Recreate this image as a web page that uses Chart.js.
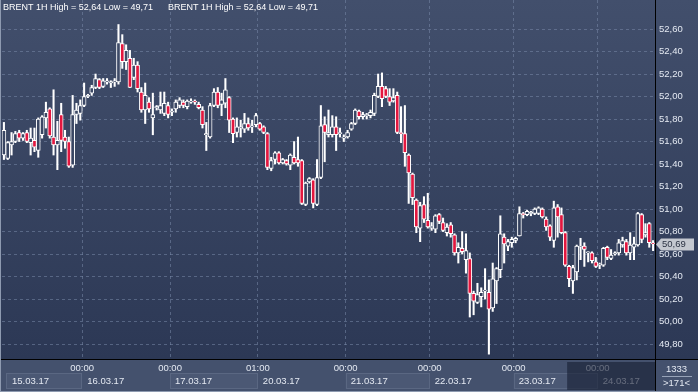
<!DOCTYPE html>
<html>
<head>
<meta charset="utf-8">
<style>
  html, body { margin: 0; padding: 0; background: #2f3c58; overflow: hidden; }
  #wrap { width: 698px; height: 392px; position: relative; }
</style>
<script src="https://cdn.jsdelivr.net/npm/chart.js@4.4.1/dist/chart.umd.min.js"></script>
</head>
<body>
<div id="wrap"><canvas id="brent-chart" width="698" height="392"></canvas></div>
<script>
// --- Dados (BRENT 1H) ---
const title = 'BRENT 1H High = 52,64 Low = 49,71';

const opens = [
  51.48, 51.45, 51.57, 51.60, 51.68, 51.63, 51.68, 51.59, 51.61, 51.52,
  51.66, 51.81, 51.89, 51.64, 51.57, 51.84, 51.64, 51.60, 51.39, 51.84,
  51.85, 51.92, 52.00, 52.03, 52.08, 52.15, 52.09, 52.13, 52.12, 52.13,
  52.13, 52.47, 52.31, 52.34, 52.17, 52.28, 52.04, 51.88, 51.95, 51.81,
  51.90, 51.88, 51.85, 51.92, 51.86, 51.89, 51.92, 51.95, 51.91, 51.95,
  51.96, 51.93, 51.88, 51.66, 51.64, 51.92, 52.04, 51.93, 51.94, 51.99,
  51.80, 51.68, 51.72, 51.71, 51.76, 51.73, 51.75, 51.76, 51.73, 51.67,
  51.36, 51.44, 51.50, 51.41, 51.43, 51.39, 51.46, 51.44, 51.43, 51.04,
  51.24, 51.26, 51.04, 51.28, 51.75, 51.66, 51.66, 51.73, 51.67, 51.63,
  51.64, 51.71, 51.76, 51.87, 51.82, 51.83, 51.83, 51.85, 52.00, 52.09,
  52.07, 52.00, 51.96, 52.01, 51.68, 51.67, 51.48, 51.31, 51.08, 50.83,
  51.04, 50.90, 50.83, 50.82, 50.95, 50.88, 50.79, 50.86, 50.77, 50.61,
  50.65, 50.55, 50.56, 50.25, 50.17, 50.22, 50.27, 50.26, 50.12, 50.36,
  50.46, 50.75, 50.67, 50.70, 50.72, 50.76, 50.96, 50.95, 50.96, 50.96,
  50.96, 51.00, 50.91, 50.85, 50.72, 51.02, 50.95, 50.79, 50.49, 50.36,
  50.44, 50.66, 50.67, 50.61, 50.61, 50.53, 50.50, 50.50, 50.66, 50.56,
  50.60, 50.61, 50.68, 50.71, 50.61, 50.66, 50.68, 50.95, 50.77, 50.87,
  50.70
];
const highs = [
  51.77, 51.60, 51.68, 51.69, 51.70, 51.68, 51.70, 51.72, 51.72, 51.81,
  51.83, 51.95, 51.90, 52.06, 51.78, 51.94, 51.70, 51.64, 52.01, 51.94,
  51.97, 52.12, 52.02, 52.10, 52.20, 52.16, 52.16, 52.16, 52.14, 52.16,
  52.64, 52.55, 52.46, 52.41, 52.34, 52.31, 52.08, 52.12, 51.99, 52.03,
  51.92, 52.04, 52.04, 51.95, 51.89, 51.97, 51.99, 51.97, 51.97, 51.98,
  51.97, 51.95, 51.91, 51.77, 51.94, 52.07, 52.08, 52.03, 52.16, 52.00,
  51.81, 51.81, 51.79, 51.85, 51.81, 51.79, 51.85, 51.77, 51.74, 51.68,
  51.46, 51.51, 51.51, 51.45, 51.44, 51.49, 51.60, 51.64, 51.44, 51.24,
  51.28, 51.27, 51.44, 51.92, 51.82, 51.88, 51.83, 51.82, 51.72, 51.66,
  51.70, 51.77, 51.89, 51.88, 51.86, 51.85, 51.88, 52.03, 52.20, 52.21,
  52.09, 52.07, 52.07, 52.04, 51.91, 51.92, 51.49, 51.32, 51.09, 51.06,
  51.11, 51.14, 50.88, 50.95, 50.96, 50.92, 50.87, 50.88, 50.78, 50.70,
  50.80, 50.78, 50.61, 50.27, 50.34, 50.30, 50.47, 50.37, 50.52, 50.48,
  50.94, 50.78, 50.73, 50.75, 50.75, 51.02, 50.97, 50.99, 50.98, 51.01,
  51.02, 51.01, 50.93, 50.86, 51.07, 51.04, 51.01, 50.80, 50.50, 50.50,
  50.68, 50.74, 50.70, 50.62, 50.62, 50.57, 50.52, 50.66, 50.67, 50.64,
  50.62, 50.73, 50.75, 50.73, 50.79, 50.75, 50.97, 50.96, 50.87, 50.88,
  50.72
];
const lows = [
  51.44, 51.44, 51.48, 51.59, 51.60, 51.61, 51.59, 51.48, 51.51, 51.46,
  51.63, 51.72, 51.63, 51.48, 51.35, 51.51, 51.54, 51.37, 51.37, 51.76,
  51.79, 51.91, 51.99, 52.01, 52.07, 52.07, 52.08, 52.11, 52.08, 52.09,
  52.11, 52.25, 52.24, 52.08, 52.15, 52.04, 51.86, 51.76, 51.86, 51.66,
  51.88, 51.85, 51.83, 51.81, 51.83, 51.86, 51.90, 51.90, 51.89, 51.94,
  51.93, 51.89, 51.72, 51.52, 51.63, 51.91, 51.90, 51.83, 51.90, 51.68,
  51.59, 51.64, 51.64, 51.68, 51.70, 51.68, 51.73, 51.70, 51.67, 51.35,
  51.34, 51.40, 51.40, 51.40, 51.39, 51.35, 51.40, 51.38, 51.04, 51.03,
  51.23, 51.01, 51.03, 51.27, 51.42, 51.64, 51.64, 51.52, 51.64, 51.60,
  51.63, 51.70, 51.75, 51.80, 51.80, 51.80, 51.81, 51.83, 51.99, 51.91,
  51.99, 51.92, 51.95, 51.67, 51.59, 51.38, 51.05, 51.04, 50.79, 50.71,
  50.88, 50.83, 50.81, 50.79, 50.87, 50.80, 50.76, 50.75, 50.59, 50.52,
  50.60, 50.43, 50.04, 50.06, 50.16, 50.13, 50.20, 49.71, 50.09, 50.16,
  50.39, 50.52, 50.63, 50.66, 50.70, 50.76, 50.92, 50.94, 50.94, 50.95,
  50.95, 50.92, 50.81, 50.72, 50.66, 50.75, 50.78, 50.49, 50.31, 50.25,
  50.37, 50.55, 50.49, 50.53, 50.52, 50.48, 50.47, 50.49, 50.55, 50.55,
  50.59, 50.59, 50.66, 50.59, 50.55, 50.55, 50.67, 50.70, 50.75, 50.66,
  50.63
];
const closes = [
  51.70, 51.59, 51.60, 51.67, 51.63, 51.67, 51.60, 51.63, 51.55, 51.80,
  51.82, 51.86, 51.65, 51.57, 51.61, 51.61, 51.60, 51.38, 51.84, 51.88,
  51.92, 52.00, 52.01, 52.08, 52.16, 52.08, 52.14, 52.14, 52.13, 52.14,
  52.48, 52.31, 52.41, 52.08, 52.28, 52.07, 51.88, 52.01, 51.89, 51.84,
  51.91, 51.92, 51.94, 51.84, 51.87, 51.95, 51.97, 51.92, 51.96, 51.96,
  51.95, 51.90, 51.75, 51.67, 51.92, 52.04, 51.92, 51.97, 52.06, 51.79,
  51.67, 51.73, 51.73, 51.76, 51.72, 51.74, 51.83, 51.71, 51.68, 51.37,
  51.43, 51.50, 51.41, 51.44, 51.40, 51.48, 51.41, 51.41, 51.05, 51.23,
  51.27, 51.05, 51.28, 51.74, 51.68, 51.68, 51.73, 51.66, 51.68, 51.64,
  51.68, 51.76, 51.88, 51.82, 51.84, 51.84, 51.86, 52.01, 52.09, 51.98,
  52.00, 51.95, 51.99, 51.68, 51.67, 51.50, 51.32, 51.10, 50.84, 51.03,
  50.91, 50.84, 50.85, 50.94, 50.89, 50.81, 50.84, 50.78, 50.61, 50.66,
  50.62, 50.63, 50.25, 50.18, 50.24, 50.26, 50.28, 50.11, 50.38, 50.47,
  50.78, 50.69, 50.71, 50.73, 50.74, 50.96, 50.95, 50.98, 50.97, 51.00,
  51.01, 50.93, 50.84, 50.75, 51.01, 50.93, 50.79, 50.50, 50.38, 50.48,
  50.67, 50.67, 50.64, 50.62, 50.54, 50.49, 50.51, 50.65, 50.57, 50.59,
  50.61, 50.70, 50.72, 50.61, 50.68, 50.69, 50.96, 50.73, 50.79, 50.70,
  50.69
];

const yTicks = [49.8, 50.0, 50.2, 50.4, 50.6, 50.8, 51.0, 51.2, 51.4, 51.6, 51.8, 52.0, 52.2, 52.4, 52.6];
const dayStarts = [21, 44, 67, 90, 112, 134, 156];   // primeira barra de cada dia
const dayTimes = ['00:00', '00:00', '01:00', '00:00', '00:00', '00:00', '00:00'];
const dayLabels = ['15.03.17', '16.03.17', '17.03.17', '20.03.17', '21.03.17', '22.03.17', '23.03.17', '24.03.17'];
const shadeFrom = 148;       // início da área escura no eixo de datas
const lastPrice = 50.69;
const totalBars = '1333';
const visibleBars = '>171<';

// --- Cores ---
const bgTop = '#424f6c';
const bgBottom = '#2c3855';
const panelColor = '#44516d';
const gridColor = 'rgba(120, 136, 168, 0.55)';
const downColor = '#e3173f';
const textColor = '#e4e9f2';
const font = '9.5px "Liberation Sans", Arial, sans-serif';
const headerFont = '9px "Liberation Sans", Arial, sans-serif';

function plotGradient(chart) {
  const { ctx, chartArea } = chart;
  if (!chartArea) return bgBottom;
  const g = ctx.createLinearGradient(0, 0, 0, chartArea.bottom);
  g.addColorStop(0, bgTop);
  g.addColorStop(1, bgBottom);
  return g;
}

// --- Plugins ---
const backgroundPlugin = {
  id: 'background',
  beforeDraw(chart) {
    const { ctx, chartArea } = chart;
    ctx.save();
    ctx.fillStyle = plotGradient(chart);
    ctx.fillRect(0, 0, chart.width, chartArea.bottom);
    ctx.fillStyle = panelColor;
    ctx.fillRect(0, chartArea.bottom, chart.width, chart.height - chartArea.bottom);
    ctx.restore();
  }
};

const overlayPlugin = {
  id: 'overlay',
  afterDraw(chart) {
    const { ctx, chartArea } = chart;
    const xs = chart.scales.x;
    const ys = chart.scales.y;
    const bottom = chartArea.bottom;
    const right = chartArea.right;
    ctx.save();
    ctx.textBaseline = 'middle';

    // cabeçalho
    ctx.font = headerFont;
    ctx.fillStyle = '#ffffff';
    ctx.textAlign = 'left';
    ctx.fillText(title, 3, 8);
    ctx.fillText(title, 168, 8);
    ctx.font = font;

    // eixo de datas
    const bounds = dayStarts.map(i => (xs.getPixelForValue(i - 1) + xs.getPixelForValue(i)) / 2);
    const edges = [chartArea.left + 4, ...bounds, right];
    for (let k = 0; k < dayLabels.length; k++) {
      const x0 = edges[k], x1 = edges[k + 1];
      if (k % 2 === 0) {
        ctx.fillStyle = '#4b5874';
        ctx.fillRect(x0, bottom + 14, x1 - x0, 16);
        ctx.strokeStyle = '#5a6782';
        ctx.lineWidth = 1;
        ctx.strokeRect(Math.round(x0) + 0.5, bottom + 14.5, Math.round(x1 - x0) - 1, 15);
      }
      ctx.fillStyle = textColor;
      ctx.textAlign = 'left';
      ctx.fillText(dayLabels[k], x0 + (k === 0 ? 6 : 5), bottom + 22);
    }
    ctx.textAlign = 'center';
    bounds.forEach((x, k) => ctx.fillText(dayTimes[k], x, bottom + 9));

    // área escura à direita
    const sx = (xs.getPixelForValue(shadeFrom - 1) + xs.getPixelForValue(shadeFrom)) / 2;
    ctx.fillStyle = 'rgba(22, 30, 52, 0.62)';
    ctx.fillRect(sx, bottom + 3, right - sx, chart.height - bottom - 5);

    // divisórias
    ctx.strokeStyle = '#000000';
    ctx.lineWidth = 1;
    ctx.beginPath();
    ctx.moveTo(0, bottom + 0.5);
    ctx.lineTo(chart.width, bottom + 0.5);
    ctx.moveTo(right + 0.5, 0);
    ctx.lineTo(right + 0.5, chart.height);
    ctx.stroke();

    // contadores
    const cx = (right + chart.width) / 2;
    ctx.fillStyle = textColor;
    ctx.textAlign = 'center';
    ctx.fillText(totalBars, cx, bottom + 10);
    ctx.fillText(visibleBars, cx, bottom + 24);
    ctx.strokeStyle = '#97a3b8';
    ctx.beginPath();
    ctx.moveTo(right + 7, bottom + 17.5);
    ctx.lineTo(chart.width - 6, bottom + 17.5);
    ctx.stroke();

    // último preço
    const py = Math.round(ys.getPixelForValue(lastPrice)) + 0.5;
    ctx.fillStyle = '#c4c8d0';
    ctx.beginPath();
    ctx.moveTo(right + 1, py);
    ctx.lineTo(right + 6, py - 6);
    ctx.lineTo(chart.width - 4, py - 6);
    ctx.lineTo(chart.width - 4, py + 6);
    ctx.lineTo(right + 6, py + 6);
    ctx.closePath();
    ctx.fill();
    ctx.fillStyle = '#2b3243';
    ctx.textAlign = 'left';
    ctx.fillText(lastPrice.toFixed(2).replace('.', ','), right + 7, py);

    // moldura
    ctx.strokeStyle = '#8e9ab0';
    ctx.beginPath();
    ctx.moveTo(0.5, 0);
    ctx.lineTo(0.5, chart.height);
    ctx.moveTo(0, chart.height - 0.5);
    ctx.lineTo(chart.width, chart.height - 0.5);
    ctx.stroke();
    ctx.restore();
  }
};

// --- Gráfico ---
const ctx = document.getElementById('brent-chart').getContext('2d');
const labels = opens.map((_, i) => i);

new Chart(ctx, {
  type: 'bar',
  data: {
    labels,
    datasets: [
      {
        label: 'corpo',
        data: opens.map((o, i) => [o, closes[i]]),
        backgroundColor: c => closes[c.dataIndex] < opens[c.dataIndex] ? downColor : plotGradient(c.chart),
        borderColor: '#ffffff',
        borderWidth: 1,
        borderSkipped: false,
        barThickness: 4,
        grouped: false,
        order: 0
      },
      {
        label: 'pavio',
        data: lows.map((l, i) => [l, highs[i]]),
        backgroundColor: '#ffffff',
        borderWidth: 0,
        barThickness: 1.4,
        grouped: false,
        order: 1
      }
    ]
  },
  options: {
    responsive: false,
    animation: false,
    events: [],
    layout: { padding: { left: 2, top: 0, right: 0, bottom: 33 } },
    plugins: { legend: { display: false }, tooltip: { enabled: false } },
    scales: {
      x: {
        ticks: { display: false },
        grid: {
          drawTicks: false,
          color: c => dayStarts.includes(c.index) ? gridColor : 'transparent'
        },
        border: { display: false, dash: [3, 3] }
      },
      y: {
        position: 'right',
        min: 49.667,
        max: 52.858,
        afterBuildTicks: s => { s.ticks = yTicks.map(v => ({ value: v })); },
        afterFit: s => { s.width = 43; s.paddingTop = 0; s.paddingBottom = 0; },
        grid: { color: gridColor, drawTicks: false },
        border: { display: false, dash: [3, 3] },
        ticks: {
          color: textColor,
          font: { family: '"Liberation Sans", Arial, sans-serif', size: 9.5 },
          padding: 4,
          callback: v => Number(v).toFixed(2).replace('.', ',')
        }
      }
    }
  },
  plugins: [backgroundPlugin, overlayPlugin]
});
</script>
</body>
</html>
